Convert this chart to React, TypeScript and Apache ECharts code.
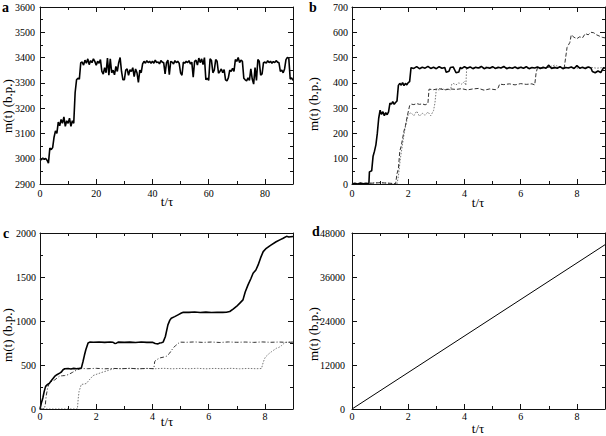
import React, { useEffect, useRef } from 'react';
import * as echarts from 'echarts';

const FONT = 'Liberation Serif, Times New Roman, serif';

// Panel a: m(t) sampled every 0.5 t/tau from 0 to 90
const A_STEP = 0.5;
const aValues = [
  3000, 2996, 3003, 2997, 3001, 2994, 2982, 3042, 3036, 3044,
  3085, 3110, 3100, 3145, 3130, 3155, 3140, 3165, 3128, 3150,
  3140, 3160, 3128, 3150, 3140, 3262, 3312, 3318, 3315, 3380,
  3382, 3370, 3390, 3378, 3395, 3372, 3388, 3380, 3395, 3385,
  3370, 3385, 3378, 3392, 3345, 3335, 3360, 3340, 3398, 3330,
  3395, 3340, 3350, 3332, 3365, 3345, 3380, 3400, 3345, 3312,
  3312, 3350, 3355, 3330, 3352, 3345, 3360, 3325, 3355, 3340,
  3302, 3350, 3340, 3375, 3385, 3378, 3388, 3380, 3385, 3378,
  3385, 3378, 3390, 3380, 3383, 3375, 3388, 3382, 3380, 3335,
  3380, 3390, 3332, 3385, 3382, 3375, 3388, 3380, 3385, 3378,
  3340, 3330, 3382, 3378, 3385, 3380, 3388, 3375, 3382, 3322,
  3385, 3390, 3370, 3398, 3380, 3395, 3372, 3400, 3312, 3318,
  3310, 3395, 3388, 3340, 3350, 3392, 3385, 3338, 3345, 3355,
  3340, 3352, 3312, 3308, 3320, 3350, 3345, 3358, 3345, 3392,
  3385, 3400, 3380, 3390, 3385, 3318, 3312, 3308, 3320, 3310,
  3355, 3315, 3295, 3360, 3310, 3392, 3385, 3330, 3335, 3380,
  3382, 3378, 3388, 3380, 3385, 3378, 3384, 3380, 3388, 3382,
  3380, 3345, 3350, 3340, 3355, 3392, 3400, 3398, 3315, 3320,
  3310,
];

// Panel b: three runs [t/tau, m]
const bSolid = [
  [0,0],[0.1,3],[0.2,0],[0.3,4],[0.4,1],[0.5,3],[0.6,0],[0.62,48],[0.7,52],[0.75,110],[0.8,130],[0.85,155],[0.9,200],[0.95,260],[1.0,292],[1.05,275],[1.1,286],[1.15,270],[1.2,282],[1.25,274],[1.3,285],[1.35,320],[1.4,316],[1.45,326],[1.5,315],[1.55,322],[1.6,328],[1.65,390],[1.7,398],[1.75,391],[1.8,401],[1.85,389],[1.9,398],[1.95,392],[2.0,401],[2.05,405],[2.1,460],[2.2,457],[2.3,464],[2.4,456],[2.5,462],[2.6,458],[2.7,465],[2.8,457],[2.9,462],[3.0,456],[3.1,464],[3.2,458],[3.3,461],[3.35,442],[3.45,446],[3.5,461],[3.6,463],[3.7,440],[3.8,443],[3.85,461],[3.9,456],[4.0,464],[4.1,458],[4.2,463],[4.3,456],[4.4,462],[4.5,459],[4.6,465],[4.7,456],[4.8,461],[4.9,458],[5.0,464],[5.1,457],[5.2,462],[5.3,459],[5.4,465],[5.5,456],[5.6,461],[5.7,458],[5.8,463],[5.9,457],[6.0,462],[6.1,458],[6.2,464],[6.3,456],[6.4,461],[6.5,459],[6.6,463],[6.7,457],[6.8,462],[6.9,458],[7.0,470],[7.1,457],[7.2,462],[7.3,458],[7.4,464],[7.5,456],[7.6,461],[7.7,459],[7.8,463],[7.9,457],[8.0,468],[8.1,458],[8.2,462],[8.3,457],[8.4,463],[8.5,459],[8.55,445],[8.65,440],[8.75,447],[8.85,441],[8.95,460],[9.0,458],
];
const bDashed = [
  [0,0],[0.5,2],[1,5],[1.5,2],[1.55,0],[1.6,40],[1.65,60],[1.7,130],[1.75,150],[1.8,180],[1.85,210],[1.9,230],[1.95,260],[2.0,285],[2.05,310],[2.1,316],[2.2,314],[2.3,318],[2.4,315],[2.5,317],[2.6,313],[2.7,318],[2.74,375],[2.9,373],[3.1,377],[3.3,372],[3.5,376],[3.7,374],[3.9,377],[4.1,372],[4.3,376],[4.5,378],[4.7,371],[4.9,376],[5.1,373],[5.2,380],[5.25,395],[5.4,393],[5.6,396],[5.8,392],[6.0,397],[6.2,394],[6.4,396],[6.5,392],[6.55,440],[6.6,460],[6.8,458],[7.0,462],[7.2,457],[7.4,462],[7.55,460],[7.6,500],[7.65,540],[7.7,550],[7.75,560],[7.8,590],[7.85,585],[7.9,580],[8.0,575],[8.1,582],[8.2,578],[8.3,595],[8.4,590],[8.5,600],[8.6,598],[8.7,590],[8.8,585],[8.9,580],[9,578],
];
const bDotted = [
  [0,0],[0.6,3],[1,6],[1.5,1],[1.6,0],[1.65,30],[1.72,100],[1.8,160],[1.87,210],[1.95,250],[2.0,275],[2.1,282],[2.2,270],[2.3,288],[2.4,268],[2.5,280],[2.6,272],[2.7,285],[2.8,270],[2.9,290],[2.95,320],[3.0,375],[3.1,372],[3.2,378],[3.3,373],[3.4,376],[3.5,372],[3.55,395],[3.6,398],[3.7,392],[3.8,400],[3.9,395],[4.0,405],[4.05,390],[4.08,460],[4.2,462],[4.5,458],[4.8,463],[5.1,457],[5.4,461],[5.7,458],[6.0,463],[6.3,457],[6.6,462],[6.9,458],[7.2,470],[7.5,459],[7.8,462],[8.1,457],[8.4,463],[8.7,458],[9.0,461],
];

// Panel c
const cSolid = [
  [0,0],[0.05,70],[0.1,125],[0.15,200],[0.2,257],[0.27,280],[0.34,295],[0.42,330],[0.52,370],[0.6,390],[0.7,408],[0.76,420],[0.82,446],[0.88,457],[1.0,460],[1.1,455],[1.2,462],[1.3,458],[1.4,462],[1.47,465],[1.53,540],[1.58,610],[1.63,673],[1.71,750],[1.77,760],[1.9,758],[2.1,762],[2.3,757],[2.5,761],[2.6,758],[2.66,745],[2.72,748],[2.78,760],[3.0,757],[3.2,760],[3.4,756],[3.6,761],[3.8,757],[4.0,758],[4.1,745],[4.2,740],[4.26,750],[4.32,752],[4.38,760],[4.46,824],[4.55,956],[4.62,1010],[4.67,1032],[4.79,1050],[4.91,1070],[5.03,1090],[5.1,1100],[5.3,1098],[5.5,1102],[5.7,1096],[5.9,1101],[6.1,1097],[6.3,1100],[6.5,1098],[6.63,1100],[6.75,1108],[6.87,1134],[6.99,1165],[7.1,1200],[7.22,1240],[7.3,1330],[7.4,1410],[7.5,1480],[7.58,1542],[7.68,1580],[7.76,1637],[7.85,1720],[7.94,1788],[8.05,1826],[8.2,1860],[8.4,1900],[8.55,1925],[8.65,1940],[8.77,1962],[8.85,1955],[9,1960],
];
const cDashed = [
  [0,0],[0.15,0],[0.19,50],[0.22,150],[0.28,250],[0.34,300],[0.45,320],[0.52,330],[0.6,350],[0.7,375],[0.8,378],[0.88,380],[1.0,390],[1.06,400],[1.15,415],[1.23,430],[1.32,445],[1.41,455],[1.5,460],[1.7,458],[2.0,462],[2.3,457],[2.6,461],[2.9,458],[3.2,462],[3.5,457],[3.8,461],[4.05,458],[4.08,540],[4.15,560],[4.26,580],[4.4,590],[4.5,600],[4.6,630],[4.73,690],[4.82,720],[4.9,740],[4.97,760],[5.2,758],[5.5,762],[5.8,757],[6.1,761],[6.4,756],[6.7,762],[7.0,758],[7.3,761],[7.6,757],[7.9,762],[8.2,758],[8.5,761],[8.8,757],[9,760],
];
const cDotted = [
  [0,0],[1.33,0],[1.36,120],[1.39,200],[1.47,280],[1.55,282],[1.65,290],[1.75,330],[1.89,380],[1.97,390],[2.06,400],[2.15,410],[2.24,420],[2.35,430],[2.48,445],[2.58,452],[2.66,460],[2.9,458],[3.2,462],[3.5,457],[3.8,461],[4.1,458],[4.4,462],[4.7,457],[5.0,461],[5.3,458],[5.6,462],[5.9,457],[6.2,461],[6.5,458],[6.8,462],[7.1,457],[7.4,461],[7.7,458],[7.88,460],[7.94,530],[8.0,580],[8.05,600],[8.15,630],[8.23,650],[8.32,670],[8.41,690],[8.5,700],[8.59,720],[8.71,755],[8.8,760],[9,760],
];

// Panel d
const dLine = [[0, 0], [9, 44800]];

const PANEL_LETTERS = ['a', 'b', 'c', 'd'];
const Y_TITLE = 'm(t) (b.p.)';
const X_TITLE = 't/\u03c4';

type Panel = {
  grid: { left: number; top: number; width: number; height: number };
  xMax: number; xMajor: number; xMinor: number;
  yMin: number; yMax: number; yMajor: number; yMinor: number;
  xLabelMargin: number; yLabelMargin: number;
};

const panels: Panel[] = [
  { grid: { left: 40, top: 7, width: 253, height: 177 }, xMax: 90, xMajor: 20, xMinor: 10, yMin: 2900, yMax: 3600, yMajor: 100, yMinor: 50, xLabelMargin: 4, yLabelMargin: 5 },
  { grid: { left: 352, top: 7, width: 253, height: 177 }, xMax: 9, xMajor: 2, xMinor: 1, yMin: 0, yMax: 700, yMajor: 100, yMinor: 50, xLabelMargin: 4, yLabelMargin: 4 },
  { grid: { left: 40, top: 233, width: 253, height: 176 }, xMax: 9, xMajor: 2, xMinor: 1, yMin: 0, yMax: 2000, yMajor: 500, yMinor: 250, xLabelMargin: 2, yLabelMargin: 4 },
  { grid: { left: 352, top: 233, width: 253, height: 176 }, xMax: 9, xMajor: 2, xMinor: 1, yMin: 0, yMax: 48000, yMajor: 12000, yMinor: 6000, xLabelMargin: 2, yLabelMargin: 7 },
];

function buildOption() {
  const xAxes: any[] = [];
  const yAxes: any[] = [];
  const xIdx: number[] = [];
  const yIdx: number[] = [];
  const black = '#111';

  panels.forEach((p, g) => {
    const mk = (dim: 'x' | 'y', pos: string, interval: number, major: boolean, labels: boolean) => ({
      gridIndex: g,
      type: 'value',
      position: pos,
      min: dim === 'x' ? 0 : p.yMin,
      max: dim === 'x' ? p.xMax : p.yMax,
      interval,
      axisLine: { show: major, onZero: false, lineStyle: { color: black, width: 1 } },
      axisTick: { show: true, inside: true, length: major ? 5 : 3, lineStyle: { color: black, width: 1 } },
      axisLabel: {
        show: labels,
        color: '#000',
        fontFamily: FONT,
        fontSize: 10,
        margin: dim === 'x' ? p.xLabelMargin : p.yLabelMargin,
        showMaxLabel: dim === 'x' ? false : true,
        formatter: (v: number) => String(v),
      },
      splitLine: { show: false },
      minorTick: { show: false },
      z: 5,
    });
    xIdx.push(xAxes.length);
    xAxes.push(mk('x', 'bottom', p.xMajor, true, true));
    xAxes.push(mk('x', 'bottom', p.xMinor, false, false));
    xAxes.push(mk('x', 'top', p.xMajor, true, false));
    xAxes.push(mk('x', 'top', p.xMinor, false, false));
    yIdx.push(yAxes.length);
    yAxes.push(mk('y', 'left', p.yMajor, true, true));
    yAxes.push(mk('y', 'left', p.yMinor, false, false));
    yAxes.push(mk('y', 'right', p.yMajor, true, false));
    yAxes.push(mk('y', 'right', p.yMinor, false, false));
  });

  const line = (g: number, data: any[], color: string, width: number, type: any, z: number) => ({
    type: 'line',
    xAxisIndex: xIdx[g],
    yAxisIndex: yIdx[g],
    data,
    showSymbol: false,
    symbol: 'none',
    lineStyle: { color, width, type },
    z,
    silent: true,
  });

  const aData = aValues.map((v, i) => [i * A_STEP, v]);

  const series = [
    line(0, aData, '#000', 1.6, 'solid', 3),
    line(1, bDotted, '#777', 1, [1.5, 1.5], 2),
    line(1, bDashed, '#333', 1, [4, 2], 2),
    line(1, bSolid, '#000', 1.6, 'solid', 3),
    line(2, cDotted, '#777', 1, [1.5, 1.5], 2),
    line(2, cDashed, '#333', 1, [4, 2, 1, 2], 2),
    line(2, cSolid, '#000', 1.6, 'solid', 3),
    line(3, dLine, '#000', 1, 'solid', 3),
  ];

  const letterPos = [[2, 0], [309, 0], [3, 226], [312, 224]];
  const yTitlePos = [[7, 106], [313, 104], [7, 335], [313, 334]];
  const xTitlePos = [[167, 201], [478, 202], [167, 421], [478, 428]];

  const graphic: any[] = [];
  PANEL_LETTERS.forEach((L, i) => {
    graphic.push({
      type: 'text', x: letterPos[i][0], y: letterPos[i][1], z: 10,
      style: { text: L, font: `bold 14px ${FONT}`, fill: '#000', align: 'left', verticalAlign: 'top' },
    });
    graphic.push({
      type: 'text', x: yTitlePos[i][0], y: yTitlePos[i][1], rotation: Math.PI / 2, z: 10,
      style: { text: Y_TITLE, font: `13px ${FONT}`, fill: '#000', align: 'center', verticalAlign: 'middle' },
    });
    graphic.push({
      type: 'text', x: xTitlePos[i][0], y: xTitlePos[i][1], z: 10,
      style: { text: X_TITLE, font: `13px ${FONT}`, fill: '#000', align: 'center', verticalAlign: 'middle' },
    });
  });

  return {
    animation: false,
    backgroundColor: '#fff',
    grid: panels.map((p) => ({ ...p.grid, containLabel: false })),
    xAxis: xAxes,
    yAxis: yAxes,
    series,
    graphic,
  };
}

export default function App() {
  const ref = useRef<HTMLDivElement>(null);
  useEffect(() => {
    if (!ref.current) return;
    const chart = echarts.init(ref.current, undefined, { renderer: 'svg' });
    chart.setOption(buildOption() as any);
    return () => chart.dispose();
  }, []);
  return (
    <div
      ref={ref}
      style={{ position: 'fixed', left: 0, top: 0, width: 606, height: 436, background: '#fff' }}
    />
  );
}
